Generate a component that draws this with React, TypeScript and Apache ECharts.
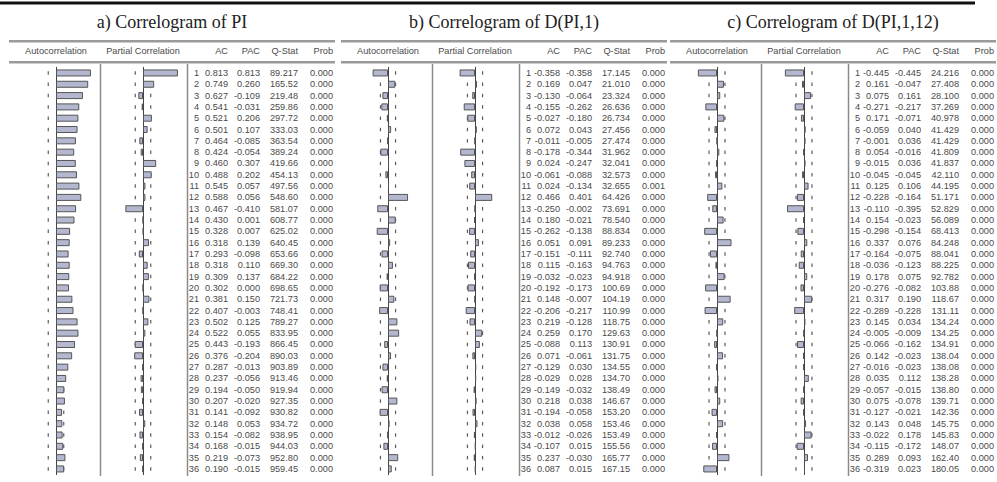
import React, { useEffect, useRef } from "react";
import * as echarts from "echarts";

const LAGS = ["1","2","3","4","5","6","7","8","9","10","11","12","13","14","15","16","17","18","19","20","21","22","23","24","25","26","27","28","29","30","31","32","33","34","35","36"];

const TITLES = ["a) Correlogram of PI", "b) Correlogram of D(PI,1)", "c) Correlogram of D(PI,1,12)"];
const HEADERS = ["Autocorrelation", "Partial Correlation", "AC", "PAC", "Q-Stat", "Prob"];

const AC_A = [0.813,0.749,0.627,0.541,0.521,0.501,0.464,0.424,0.460,0.488,0.545,0.588,0.467,0.430,0.328,0.318,0.293,0.318,0.309,0.302,0.381,0.407,0.502,0.522,0.443,0.376,0.287,0.237,0.194,0.207,0.141,0.148,0.154,0.168,0.219,0.190];
const PAC_A = [0.813,0.260,-0.109,-0.031,0.206,0.107,-0.085,-0.054,0.307,0.202,0.057,0.056,-0.410,0.001,0.007,0.139,-0.098,0.110,0.137,0.000,0.150,-0.003,0.125,0.055,-0.193,-0.204,-0.013,-0.056,-0.050,-0.020,-0.092,0.053,-0.082,-0.015,-0.073,-0.015];
const Q_A = [89.217,165.52,219.48,259.86,297.72,333.03,363.54,389.24,419.66,454.13,497.56,548.60,581.07,608.77,625.02,640.45,653.66,669.30,684.22,698.65,721.73,748.41,789.27,833.95,866.45,890.03,903.89,913.46,919.94,927.35,930.82,934.72,938.95,944.03,952.80,959.45];
const P_A = [0,0,0,0,0,0,0,0,0,0,0,0,0,0,0,0,0,0,0,0,0,0,0,0,0,0,0,0,0,0,0,0,0,0,0,0];

const AC_B = [-0.358,0.169,-0.130,-0.155,-0.027,0.072,-0.011,-0.178,0.024,-0.061,0.024,0.466,-0.250,0.180,-0.262,0.051,-0.151,0.115,-0.032,-0.192,0.148,-0.206,0.219,0.259,-0.088,0.071,-0.129,-0.029,-0.149,0.218,-0.194,0.038,-0.012,-0.107,0.237,0.087];
const PAC_B = [-0.358,0.047,-0.064,-0.262,-0.180,0.043,-0.005,-0.344,-0.247,-0.088,-0.134,0.401,-0.002,-0.021,-0.138,0.091,-0.111,-0.163,-0.023,-0.173,-0.007,-0.217,-0.128,0.170,0.113,-0.061,0.030,0.028,-0.032,0.038,-0.058,0.058,-0.026,0.015,-0.030,0.015];
const Q_B = [17.145,21.010,23.324,26.636,26.734,27.456,27.474,31.962,32.041,32.573,32.655,64.426,73.691,78.540,88.834,89.233,92.740,94.763,94.918,100.69,104.19,110.99,118.75,129.63,130.91,131.75,134.55,134.70,138.49,146.67,153.20,153.46,153.49,155.56,165.77,167.15];
const P_B = [0,0,0,0,0,0,0,0,0,0,0.001,0,0,0,0,0,0,0,0,0,0,0,0,0,0,0,0,0,0,0,0,0,0,0,0,0];

const AC_C = [-0.445,0.161,0.075,-0.271,0.171,-0.059,-0.001,0.054,-0.015,-0.045,0.125,-0.228,-0.110,0.154,-0.298,0.337,-0.164,-0.036,0.178,-0.276,0.317,-0.289,0.145,-0.005,-0.066,0.142,-0.016,0.035,-0.057,0.075,-0.127,0.143,-0.022,-0.115,0.289,-0.319];
const PAC_C = [-0.445,-0.047,0.161,-0.217,-0.071,0.040,0.036,-0.016,0.036,-0.045,0.106,-0.164,-0.395,-0.023,-0.154,0.076,-0.075,-0.123,0.075,-0.082,0.190,-0.228,0.034,-0.009,-0.162,-0.023,-0.023,0.112,-0.015,-0.078,-0.021,0.048,0.178,-0.172,0.093,0.023];
const Q_C = [24.216,27.408,28.100,37.269,40.978,41.429,41.429,41.809,41.837,42.110,44.195,51.171,52.829,56.089,68.413,84.248,88.041,88.225,92.782,103.88,118.67,131.11,134.24,134.25,134.91,138.04,138.08,138.28,138.80,139.71,142.36,145.75,145.83,148.07,162.40,180.05];
const P_C = [0,0,0,0,0,0,0,0,0,0,0,0,0,0,0,0,0,0,0,0,0,0,0,0,0,0,0,0,0,0,0,0,0,0,0,0];

const CONF = [0.180, 0.176, 0.185];

const PANELS = [
  { ac: AC_A, pac: PAC_A, q: Q_A, p: P_A },
  { ac: AC_B, pac: PAC_B, q: Q_B, p: P_B },
  { ac: AC_C, pac: PAC_C, q: Q_C, p: P_C },
];

const PANEL_LEFT = [13, 345, 674];
const TOP = 67.3;
const HEIGHT = 407.3;
const COLW = 86;
const SANS = "'Liberation Sans', Arial, sans-serif";
const SERIF = "'Liberation Serif', 'Times New Roman', serif";
const TXT = "#4a4a4a";
const FS = 9.2;
// right edges of table columns, relative to panel left
const COL_RIGHT = [186, 215, 247, 285, 320];

function fmtQ(v: number) {
  return v >= 100 ? v.toFixed(2) : v.toFixed(3);
}

function buildOption() {
  const grid: any[] = [];
  const xAxis: any[] = [];
  const yAxis: any[] = [];
  const series: any[] = [];
  const graphic: any[] = [];

  graphic.push({ type: "line", shape: { x1: 0, y1: 3, x2: 975, y2: 3 }, style: { stroke: "#111", lineWidth: 3 } });

  PANELS.forEach((pd, p) => {
    const pl = PANEL_LEFT[p];
    [pd.ac, pd.pac].forEach((vals, k) => {
      const gi = grid.length;
      const gLeft = pl + k * 87;
      grid.push({ left: gLeft, top: TOP, width: COLW, height: HEIGHT });
      xAxis.push({ gridIndex: gi, type: "value", min: -1, max: 1, show: false });
      const yi = yAxis.length;
      yAxis.push({
        gridIndex: gi, type: "category", data: LAGS, inverse: true,
        axisLine: { show: true, onZero: true, lineStyle: { color: "#444", width: 1 } },
        axisTick: { show: false }, axisLabel: { show: false }, splitLine: { show: false },
      });
      series.push({
        type: "bar", xAxisIndex: gi, yAxisIndex: yi, data: vals, barWidth: 7, z: 3,
        itemStyle: { color: "#b3b7cf", borderColor: "#555", borderWidth: 1 },
      });
      const c = CONF[p];
      const pts: any[] = [];
      LAGS.forEach((l) => { pts.push([-c, l]); pts.push([c, l]); });
      series.push({
        type: "scatter", xAxisIndex: gi, yAxisIndex: yi, data: pts, symbol: "rect",
        symbolSize: [1.2, 3.5], z: 2, itemStyle: { color: "#333" }, silent: true,
      });
      if (k === 1) {
        const axisX = gLeft + COLW;
        const cols: ((i: number, v: string) => string)[] = [
          (i, v) => v,
          (i) => pd.ac[i].toFixed(3),
          (i) => pd.pac[i].toFixed(3),
          (i) => fmtQ(pd.q[i]),
          (i) => pd.p[i].toFixed(3),
        ];
        cols.forEach((fn, ci) => {
          yAxis.push({
            gridIndex: gi, type: "category", data: LAGS, inverse: true, position: "right",
            axisLine: { show: false, onZero: false }, axisTick: { show: false }, splitLine: { show: false },
            axisLabel: {
              show: true, interval: 0, align: "right",
              margin: pl + COL_RIGHT[ci] - axisX,
              fontSize: FS, fontFamily: SANS, color: TXT,
              formatter: (v: string, idx: number) => fn(idx, v),
            },
          });
        });
      }
    });

    // title
    graphic.push({
      type: "text", x: pl + 159, y: 22,
      style: { text: TITLES[p], font: `18px ${SERIF}`, fill: "#222", align: "center", verticalAlign: "middle" },
    });
    // header lines
    [40, 61].forEach((y) => {
      graphic.push({ type: "rect", shape: { x: pl - 4, y, width: 326, height: 2.5 }, style: { fill: "#9a9a9a" } });
    });
    // header texts
    const hx = [pl + 43, pl + 130, pl + COL_RIGHT[1], pl + COL_RIGHT[2], pl + COL_RIGHT[3], pl + COL_RIGHT[4]];
    const ha = ["center", "center", "right", "right", "right", "right"];
    HEADERS.forEach((h, i) => {
      graphic.push({
        type: "text", x: hx[i], y: 51,
        style: { text: h, font: `${FS}px ${SANS}`, fill: TXT, align: ha[i], verticalAlign: "middle" },
      });
    });
    // column dividers
    [87.5, 174.5].forEach((dx) => {
      graphic.push({
        type: "line", shape: { x1: pl + dx, y1: 64, x2: pl + dx, y2: 476 },
        style: { stroke: "#8a8a8a", lineWidth: 1.5 },
      });
    });
  });

  return {
    animation: false,
    backgroundColor: "#ffffff",
    grid, xAxis, yAxis, series, graphic,
  };
}

export default function App() {
  const ref = useRef<HTMLDivElement>(null);
  useEffect(() => {
    if (!ref.current) return;
    const chart = echarts.init(ref.current, undefined, { renderer: "svg" });
    chart.setOption(buildOption() as any);
    return () => chart.dispose();
  }, []);
  return (
    <div
      ref={ref}
      style={{ position: "fixed", left: 0, top: 0, width: 997, height: 482, background: "#fff" }}
    />
  );
}
